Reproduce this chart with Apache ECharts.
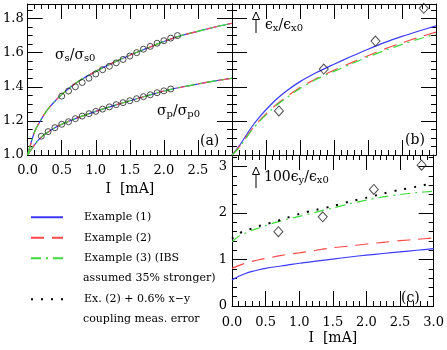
<!DOCTYPE html>
<html><head><meta charset="utf-8">
<script src="https://cdn.jsdelivr.net/npm/echarts@6/dist/echarts.min.js"></script>
<style>html,body{margin:0;padding:0;background:#fff}#c{width:447px;height:350px}</style>
</head><body><div id="c"></div>
<script>
// ---------- data ----------
const xCurve = [0,0.1,0.2,0.3,0.4,0.5,0.65,0.8,1.0,1.25,1.5,1.75,2.0,2.25,2.5,2.75,3.0];
// panel (a)
const sigmaS = [1.0,1.135,1.21,1.27,1.315,1.355,1.405,1.445,1.49,1.54,1.585,1.625,1.665,1.70,1.725,1.75,1.772];
const sigmaP = [1.0,1.06,1.105,1.135,1.16,1.18,1.205,1.228,1.256,1.288,1.318,1.347,1.375,1.397,1.416,1.434,1.45];
const circSX = [0.5,0.6,0.7,0.8,0.9,1.0,1.1,1.2,1.3,1.4,1.5,1.6,1.7,1.8,1.9,2.0,2.1,2.2];
const circSY = [1.345,1.375,1.40,1.425,1.45,1.475,1.50,1.52,1.54,1.56,1.58,1.60,1.62,1.637,1.655,1.67,1.685,1.70];
const circPX = [0.2,0.3,0.4,0.5,0.6,0.7,0.8,0.9,1.0,1.1,1.2,1.3,1.4,1.5,1.6,1.7,1.8,1.9,2.0,2.1];
const circPY = [1.11,1.137,1.16,1.18,1.195,1.213,1.228,1.242,1.256,1.269,1.282,1.295,1.307,1.318,1.33,1.342,1.353,1.365,1.376,1.387];
// panel (b) emittance x
const ex1 = [1.0,1.05,1.11,1.17,1.22,1.265,1.325,1.375,1.43,1.485,1.532,1.577,1.62,1.66,1.695,1.727,1.757];
const ex2 = [1.0,1.045,1.1,1.155,1.2,1.24,1.295,1.34,1.395,1.45,1.497,1.54,1.582,1.622,1.657,1.69,1.72];
const ex3 = [1.0,1.04,1.095,1.15,1.195,1.235,1.29,1.335,1.39,1.445,1.49,1.533,1.575,1.613,1.648,1.68,1.71];
const measX = [0.69,1.35,2.11,2.82];
const measEx = [1.258,1.504,1.668,1.86];
// panel (c) emittance y
const ey1 = [0.56,0.64,0.7,0.745,0.78,0.81,0.845,0.875,0.92,0.965,1.01,1.055,1.095,1.13,1.165,1.2,1.235];
const ey2 = [0.81,0.87,0.92,0.96,0.995,1.025,1.065,1.105,1.145,1.2,1.255,1.29,1.335,1.37,1.405,1.435,1.465];
const ey3 = [1.38,1.5,1.57,1.63,1.68,1.73,1.8,1.86,1.93,2.02,2.11,2.2,2.28,2.35,2.4,2.44,2.47];
const ey4 = [1.45,1.56,1.62,1.67,1.72,1.76,1.82,1.89,1.98,2.07,2.15,2.25,2.33,2.42,2.5,2.57,2.65];
const measEy = [1.6,1.92,2.51,3.03];
const names = ['Example (1)','Example (2)','Example (3)','Ex. (2) + 0.6% x\u2212y'];

// ---------- helpers ----------
const FONT = 'DejaVu Serif';
const BLUE = '#3a3aff', RED = '#ff4848', GREEN = '#3cdc3c';
const pair = (xs, ys) => xs.map((x, i) => [x, ys[i]]);
const styles = [
  {color: BLUE, width: 1.2, type: 'solid'},
  {color: RED, width: 1.2, type: [13, 8]},
  {color: GREEN, width: 1.2, type: [10, 5, 2, 5]},
  {color: '#000', width: 2, type: [2, 8]}
];
function lineS(k, data, ai) {
  return {type: 'line', name: names[k], data: data, xAxisIndex: ai, yAxisIndex: ai,
    symbol: 'none', smooth: 0.3, lineStyle: styles[k], itemStyle: {color: styles[k].color},
    z: 3 + k, silent: true};
}
function scat(data, ai, sym, size) {
  return {type: 'scatter', name: 'meas', data: data, xAxisIndex: ai, yAxisIndex: ai,
    symbol: sym, symbolSize: size, z: 10, silent: true,
    itemStyle: {color: 'rgba(0,0,0,0)', borderColor: '#222', borderWidth: 1}};
}
function ax(gi, pos, min, max, interval, minorSplit, showLabel, extra) {
  return Object.assign({
    type: 'value', gridIndex: gi, position: pos, min: min, max: max, interval: interval,
    axisLine: {show: true, onZero: false, lineStyle: {color: '#000', width: 1}},
    axisTick: {show: true, inside: true, length: 15, lineStyle: {color: '#000', width: 1}},
    minorTick: {show: true, splitNumber: minorSplit, length: 5, lineStyle: {color: '#000', width: 1}},
    splitLine: {show: false}, minorSplitLine: {show: false},
    axisLabel: {show: showLabel, color: '#000', fontFamily: FONT, fontSize: 13, showMaxLabel: false}
  }, extra || {});
}

const grids = [
  {left: 26, top: 4, width: 206, height: 151},
  {left: 232, top: 4, width: 204, height: 151},
  {left: 232, top: 155, width: 204, height: 151}
];
const nameStyle = {nameLocation: 'middle', name: 'I  [mA]', nameTextStyle: {fontFamily: FONT, fontSize: 14, color: '#000'}};
const xAxes = [
  ax(0, 'bottom', 0, 3, 0.5, 5, true, Object.assign({nameGap: 27}, nameStyle)),
  ax(0, 'top', 0, 3, 0.5, 5, false),
  ax(1, 'bottom', 0, 3, 0.5, 5, false),
  ax(1, 'top', 0, 3, 0.5, 5, false),
  ax(2, 'bottom', 0, 3, 0.5, 5, true, Object.assign({nameGap: 25}, nameStyle)),
  ax(2, 'top', 0, 3, 0.5, 5, false)
];
xAxes[0].axisLabel.formatter = v => v.toFixed(1);
xAxes[0].axisLabel.margin = 9;
xAxes[4].axisLabel.formatter = v => v.toFixed(1);
xAxes[4].axisLabel.showMaxLabel = true;
xAxes[4].axisLabel.margin = 10;
const yAxes = [
  ax(0, 'left', 1.0, 1.885, 0.2, 4, true),
  ax(0, 'right', 1.0, 1.885, 0.2, 4, false),
  ax(1, 'left', 1.0, 1.885, 0.2, 4, false),
  ax(1, 'right', 1.0, 1.885, 0.2, 4, false),
  ax(2, 'left', 0, 3.25, 1, 5, true),
  ax(2, 'right', 0, 3.25, 1, 5, false)
];
yAxes[0].axisLabel.formatter = v => v.toFixed(1);
yAxes[0].axisLabel.margin = 4;
yAxes[4].axisLabel.margin = 5;

const series = [
  // panel a
  lineS(0, pair(xCurve, sigmaS), 0), lineS(1, pair(xCurve, sigmaS), 0), lineS(2, pair(xCurve, sigmaS), 0),
  lineS(0, pair(xCurve, sigmaP), 0), lineS(1, pair(xCurve, sigmaP), 0), lineS(2, pair(xCurve, sigmaP), 0),
  scat(pair(circSX, circSY), 0, 'circle', 6),
  scat(pair(circPX, circPY), 0, 'circle', 6),
  // panel b
  lineS(0, pair(xCurve, ex1), 2), lineS(1, pair(xCurve, ex2), 2), lineS(2, pair(xCurve, ex3), 2),
  scat(pair(measX, measEx), 2, 'diamond', [9, 10]),
  // panel c
  lineS(0, pair(xCurve, ey1), 4), lineS(1, pair(xCurve, ey2), 4), lineS(2, pair(xCurve, ey3), 4),
  lineS(3, pair(xCurve, ey4), 4),
  scat(pair(measX, measEy), 4, 'diamond', [9, 10])
];

const legendText = {fontFamily: FONT, fontSize: 11, color: '#000', lineHeight: 20.5, padding: [0, 0, 0, 16]};
const legendBase = {orient: 'vertical', left: 30, itemWidth: 32, itemHeight: 10, itemGap: 0, padding: 0,
  selectedMode: false, textStyle: legendText, itemStyle: {opacity: 0}};
const legends = [
  Object.assign({data: names.slice(0, 3), top: 207,
    formatter: n => (n === 'Example (3)' ? 'Example (3) (IBS' : n)}, legendBase),
  Object.assign({data: [names[3]], top: 289}, legendBase)
];

function richLabel(left, top, text) {
  return {type: 'text', left: left, top: top, silent: true,
    style: {text: text, fill: '#000', font: '14px ' + FONT,
      rich: {m: {fontFamily: FONT, fontSize: 14, fill: '#000'},
             s: {fontFamily: FONT, fontSize: 10, fill: '#000', padding: [7, 0, 0, 0]}}}};
}
function plainText(left, top, text, size) {
  return {type: 'text', left: left, top: top, silent: true,
    style: {text: text, fill: '#000', font: size + 'px ' + FONT}};
}
function arrow(x, yTip) {
  return [
    {type: 'line', silent: true, shape: {x1: x, y1: yTip + 7, x2: x, y2: yTip + 21}, style: {stroke: '#000', lineWidth: 1}},
    {type: 'polygon', silent: true, shape: {points: [[x - 3.5, yTip + 7.5], [x, yTip], [x + 3.5, yTip + 7.5]]}, style: {fill: 'none', stroke: '#000', lineWidth: 1}}
  ];
}
const graphics = [].concat(
  [richLabel(55, 48, '{m|\u03c3}{s|s}{m|/\u03c3}{s|s0}'),
   richLabel(157, 104, '{m|\u03c3}{s|p}{m|/\u03c3}{s|p0}'),
   richLabel(265, 18, '{m|\u03f5}{s|x}{m|/\u03f5}{s|x0}'),
   richLabel(264, 170, '{m|100\u03f5}{s|y}{m|/\u03f5}{s|x0}'),
   plainText(200, 134, '(a)', 14),
   plainText(405, 133, '(b)', 14),
   plainText(401, 291, '(c)', 14),
   plainText(83, 273, 'assumed 35% stronger)', 11),
   plainText(83, 314, 'coupling meas. error', 11)],
  arrow(256, 12),
  arrow(256, 167)
);

const chart = echarts.init(document.getElementById('c'), null, {renderer: 'canvas'});
chart.setOption({
  animation: false,
  backgroundColor: '#fff',
  grid: grids,
  xAxis: xAxes,
  yAxis: yAxes,
  legend: legends,
  series: series,
  graphic: graphics
});
</script>
</body></html>
